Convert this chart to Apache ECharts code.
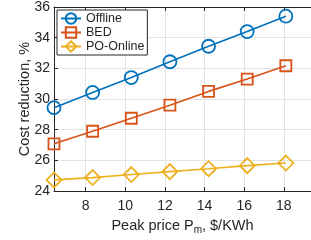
<!DOCTYPE html>
<html>
<head>
<meta charset="utf-8">
<script src="https://cdn.jsdelivr.net/npm/echarts@6/dist/echarts.min.js"></script>
<style>
  html, body { margin: 0; padding: 0; background: #fff; }
  #chart { width: 311px; height: 240px; }
</style>
</head>
<body>
<div id="chart"></div>
<script>
// peak price values (x) and cost reduction (%) per method
const peakPrice = [6.4, 8.35, 10.3, 12.25, 14.2, 16.15, 18.1]
const offline = [29.44, 30.43, 31.4, 32.43, 33.44, 34.4, 35.4]
const bed = [27.08, 27.9, 28.75, 29.6, 30.5, 31.3, 32.17]
const poOnline = [24.73, 24.88, 25.08, 25.27, 25.46, 25.66, 25.83]
const seriesNames = ['Offline', 'BED', 'PO-Online']

const colors = ['#0072BD', '#D95319', '#EDB120']
const axisColor = '#262626'
const gridColor = '#e3e3e3'
const font = '"Liberation Sans", Arial, Helvetica, sans-serif'

const chart = echarts.init(document.getElementById('chart'))

function pairs(ys) {
  return ys.map((y, i) => [peakPrice[i], y])
}

function makeSeries(name, ys, color, symbol, size) {
  return {
    name: name,
    type: 'line',
    data: pairs(ys),
    symbol: symbol,
    symbolSize: size,
    showAllSymbol: true,
    lineStyle: { color: color, width: 1.6 },
    itemStyle: { color: 'rgba(255,255,255,0)', borderColor: color, borderWidth: 1.8 },
    emphasis: { disabled: true },
    z: 3,
  }
}

const xMin = 6.4
const xMax = 19.37

const option = {
  animation: false,
  textStyle: { fontFamily: font },
  grid: { left: 54, right: -5, top: 6, bottom: 48 },
  legend: {
    orient: 'vertical',
    left: 57,
    top: 10,
    data: seriesNames,
    backgroundColor: '#fff',
    borderColor: axisColor,
    borderWidth: 1,
    padding: [2, 3, 2, 3],
    itemWidth: 20,
    itemHeight: 13,
    itemGap: 1,
    textStyle: { fontSize: 12.5, color: axisColor, fontFamily: font },
  },
  xAxis: [
    {
      type: 'value',
      min: xMin,
      max: xMax,
      minInterval: 2,
      maxInterval: 2,
      name: '{a|Peak price P}{s|m}{a|, $/KWh}',
      nameLocation: 'middle',
      nameGap: 22,
      nameTextStyle: {
        rich: {
          a: { fontSize: 14.5, color: axisColor, fontFamily: font },
          s: { fontSize: 10, color: axisColor, fontFamily: font, padding: [9, 0, 0, 0] },
        },
      },
      axisLine: { show: true, lineStyle: { color: axisColor, width: 1 } },
      axisTick: { show: true, inside: true, length: 4, lineStyle: { color: axisColor } },
      axisLabel: {
        fontSize: 14,
        color: axisColor,
        margin: 8,
        showMinLabel: false,
        showMaxLabel: false,
        formatter: v => (Math.abs(v % 2) < 1e-6 ? String(v) : ''),
      },
      splitLine: { show: true, lineStyle: { color: gridColor, width: 1 } },
    },
    {
      type: 'value',
      position: 'top',
      min: xMin,
      max: xMax,
      minInterval: 2,
      maxInterval: 2,
      axisLine: { show: true, lineStyle: { color: axisColor, width: 1 } },
      axisTick: { show: true, inside: true, length: 4, lineStyle: { color: axisColor } },
      axisLabel: { show: false },
      splitLine: { show: false },
    },
  ],
  yAxis: {
    type: 'value',
    min: 24,
    max: 36,
    interval: 2,
    name: 'Cost reduction, %',
    nameLocation: 'middle',
    nameGap: 22,
    nameMoveOverlap: false,
    nameTextStyle: { fontSize: 14.5, color: axisColor, fontFamily: font },
    axisLine: { show: true, lineStyle: { color: axisColor, width: 1 } },
    axisTick: { show: true, inside: true, length: 4, lineStyle: { color: axisColor } },
    axisLabel: { fontSize: 14, color: axisColor, margin: 4 },
    splitLine: { show: true, lineStyle: { color: gridColor, width: 1 } },
  },
  series: [
    makeSeries(seriesNames[0], offline, colors[0], 'circle', 13),
    makeSeries(seriesNames[1], bed, colors[1], 'rect', 11),
    makeSeries(seriesNames[2], poOnline, colors[2], 'diamond', 15),
  ],
}

chart.setOption(option)
</script>
</body>
</html>
